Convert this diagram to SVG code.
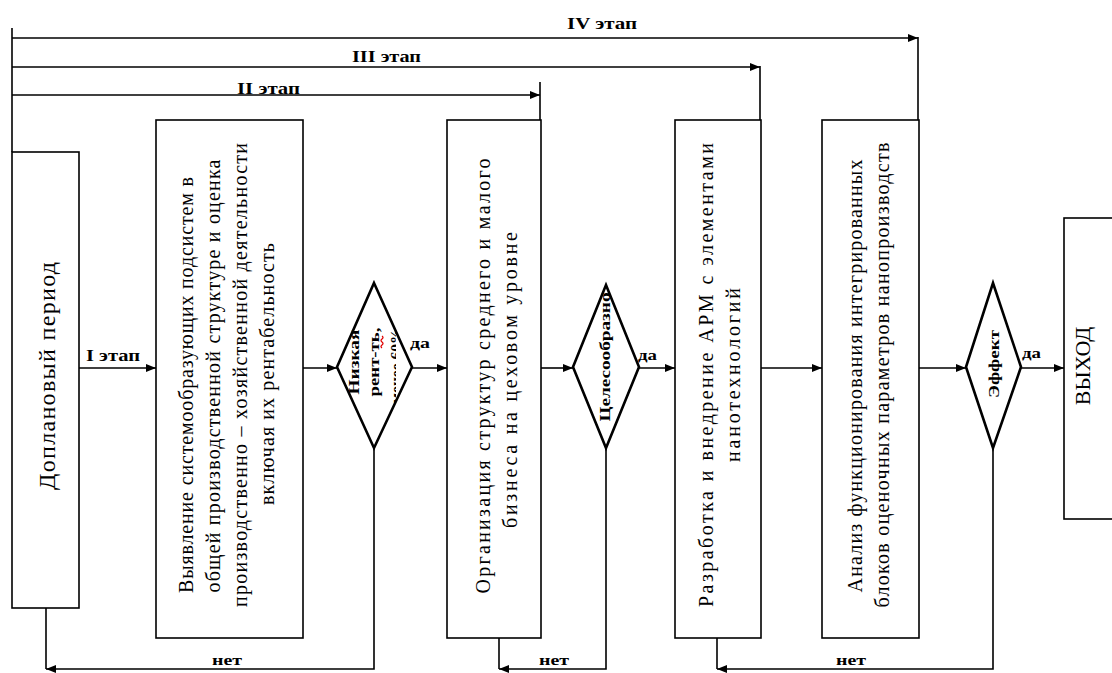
<svg xmlns="http://www.w3.org/2000/svg" width="1112" height="673" viewBox="0 0 1112 673">
<defs>
<marker id="ah" viewBox="0 0 10 8" refX="10" refY="4" markerWidth="11" markerHeight="8" markerUnits="userSpaceOnUse" orient="auto"><path d="M0,0 L10,4 L0,8 z" fill="#000"/></marker>
<clipPath id="clipD1" clipPathUnits="userSpaceOnUse"><rect x="330" y="280" width="66" height="170"/></clipPath>
</defs>
<style>
.box{fill:#fff;stroke:#000;stroke-width:1.6}
.dia{fill:#fff;stroke:#000;stroke-width:2.6}
.ln{fill:none;stroke:#000;stroke-width:1.6}
.arr{fill:none;stroke:#000;stroke-width:1.6;marker-end:url(#ah)}
.t{font-family:"Liberation Serif","DejaVu Serif",serif;font-size:20px;fill:#000}
.b{font-family:"Liberation Serif","DejaVu Serif",serif;font-weight:bold;font-size:16px;fill:#000}
.d{font-family:"Liberation Serif","DejaVu Serif",serif;font-weight:bold;font-size:14px;fill:#000}
</style>
<rect width="1112" height="673" fill="#fff"/>
<g id="connectors">
<path class="ln" d="M12,28 V152"/>
<path class="arr" d="M12,38 H918"/>
<path class="ln" d="M918,37 V120"/>
<path class="arr" d="M12,67 H760"/>
<path class="ln" d="M760,66 V120"/>
<path class="arr" d="M12,95 H540"/>
<path class="ln" d="M540,82 V120"/>
<path class="arr" d="M79,368 H156"/>
<path class="arr" d="M303,368 H337"/>
<path class="arr" d="M412,368 H447"/>
<path class="arr" d="M541,368 H573"/>
<path class="arr" d="M639,368 H675"/>
<path class="arr" d="M761,368 H822"/>
<path class="arr" d="M919,368 H966"/>
<path class="arr" d="M1021,368 H1064"/>
<path class="arr" d="M374,448 V669 H46"/>
<path class="ln" d="M46,608 V669"/>
<path class="arr" d="M606,448 V669 H499"/>
<path class="ln" d="M499,638 V669"/>
<path class="arr" d="M993,448 V669 H717"/>
<path class="ln" d="M717,638 V669"/>
<text class="b" x="567" y="29" textLength="70" lengthAdjust="spacingAndGlyphs">IV этап</text>
<text class="b" x="352" y="62" textLength="69" lengthAdjust="spacingAndGlyphs">III этап</text>
<text class="b" x="237" y="94" textLength="63" lengthAdjust="spacingAndGlyphs">II этап</text>
<text class="b" x="86" y="361" textLength="54" lengthAdjust="spacingAndGlyphs">I этап</text>
<text class="d" x="410" y="348" textLength="20" lengthAdjust="spacingAndGlyphs">да</text>
<text class="d" x="638" y="360" textLength="19" lengthAdjust="spacingAndGlyphs">да</text>
<text class="d" x="1022" y="358" textLength="19" lengthAdjust="spacingAndGlyphs">да</text>
<text class="d" x="227" y="665" text-anchor="middle" textLength="30" lengthAdjust="spacingAndGlyphs">нет</text>
<text class="d" x="554" y="665" text-anchor="middle" textLength="30" lengthAdjust="spacingAndGlyphs">нет</text>
<text class="d" x="851" y="665" text-anchor="middle" textLength="30" lengthAdjust="spacingAndGlyphs">нет</text>
</g>
<g id="node-preplan">
<rect class="box" x="12" y="152" width="67" height="456"/>
<text class="t" style="font-size:24px" transform="translate(55,376) rotate(-90)" text-anchor="middle" textLength="228" lengthAdjust="spacing">Доплановый  период</text>
</g>
<g id="node-identify">
<rect class="box" x="156" y="120" width="147" height="518"/>
<text class="t" transform="translate(193,385) rotate(-90)" text-anchor="middle" textLength="416" lengthAdjust="spacing">Выявление системообразующих подсистем в</text>
<text class="t" transform="translate(220,376) rotate(-90)" text-anchor="middle" textLength="433" lengthAdjust="spacing">общей производственной структуре и оценка</text>
<text class="t" transform="translate(247,375) rotate(-90)" text-anchor="middle" textLength="464" lengthAdjust="spacing">производственно – хозяйственной  деятельности</text>
<text class="t" transform="translate(274,374) rotate(-90)" text-anchor="middle" textLength="262" lengthAdjust="spacing">включая их рентабельность</text>
</g>
<g id="node-decision1">
<polygon class="dia" points="374,283 412,367 374,448 337,367"/>
<text class="d" transform="translate(359,362) rotate(-90)" text-anchor="middle" textLength="65" lengthAdjust="spacingAndGlyphs">Низкая</text>
<text class="d" transform="translate(379,362) rotate(-90)" text-anchor="middle" textLength="69" lengthAdjust="spacingAndGlyphs">рент-ть,</text>
<path d="M382,348 q-2,-1.5 0,-3 t0,-3 t0,-3 t0,-3" fill="none" stroke="#e00000" stroke-width="1.3"/>
<g clip-path="url(#clipD1)">
<text class="d" transform="translate(401,366) rotate(-90)" text-anchor="middle" textLength="75" lengthAdjust="spacingAndGlyphs">менее 60%</text>
</g>
</g>
<g id="node-organize">
<rect class="box" x="447" y="120" width="94" height="518"/>
<text class="t" transform="translate(490,376) rotate(-90)" text-anchor="middle" textLength="435" lengthAdjust="spacing">Организация структур среднего и малого</text>
<text class="t" transform="translate(517,380) rotate(-90)" text-anchor="middle" textLength="296" lengthAdjust="spacing">бизнеса на цеховом уровне</text>
</g>
<g id="node-decision2">
<polygon class="dia" points="606,285 639,367 606,448 573,367"/>
<text class="d" transform="translate(610,357) rotate(-90)" text-anchor="middle" textLength="129" lengthAdjust="spacingAndGlyphs">Целесообразно</text>
</g>
<g id="node-develop">
<rect class="box" x="675" y="120" width="86" height="518"/>
<text class="t" transform="translate(713,375) rotate(-90)" text-anchor="middle" textLength="464" lengthAdjust="spacing">Разработка и внедрение АРМ с элементами</text>
<text class="t" transform="translate(740,375) rotate(-90)" text-anchor="middle" textLength="174" lengthAdjust="spacing">нанотехнологий</text>
</g>
<g id="node-analysis">
<rect class="box" x="822" y="120" width="97" height="518"/>
<text class="t" transform="translate(862,376) rotate(-90)" text-anchor="middle" textLength="433" lengthAdjust="spacing">Анализ функционирования  интегрированных</text>
<text class="t" transform="translate(889,375) rotate(-90)" text-anchor="middle" textLength="465" lengthAdjust="spacing">блоков оценочных  параметров  нанопроизводств</text>
</g>
<g id="node-decision3">
<polygon class="dia" points="993,283 1021,367 993,448 966,367"/>
<text class="d" transform="translate(999,364) rotate(-90)" text-anchor="middle" textLength="68" lengthAdjust="spacingAndGlyphs">Эффект</text>
</g>
<g id="node-exit">
<rect class="box" x="1064" y="218" width="60" height="301"/>
<text class="t" style="font-size:22px" transform="translate(1090,366) rotate(-90)" text-anchor="middle">ВЫХОД</text>
</g>
</svg>
